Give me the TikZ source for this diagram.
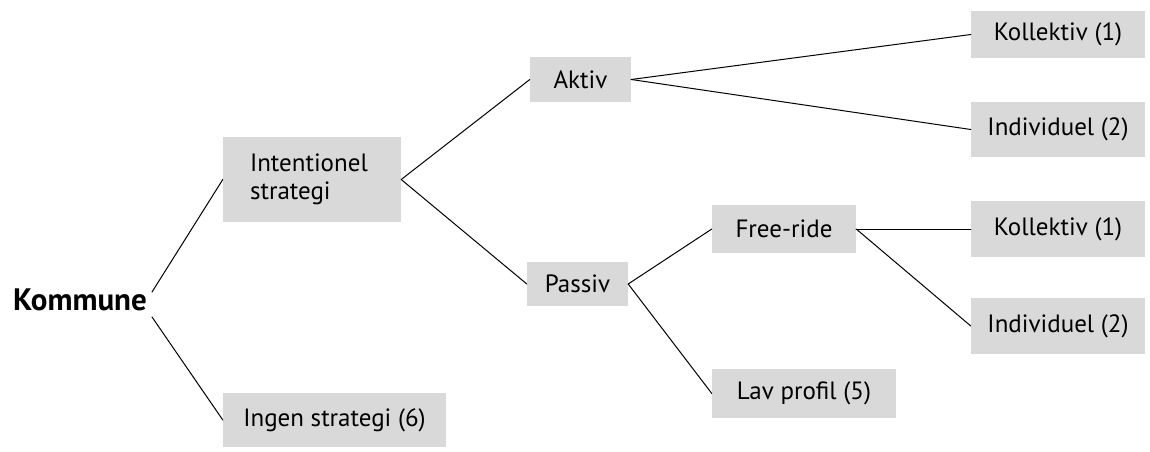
\documentclass[tikz,border=0pt]{standalone}
\usepackage{fontspec}
\setmainfont{PT Sans}
\usetikzlibrary{calc}
\definecolor{boxgray}{RGB}{217,217,217}

\begin{document}
\begin{tikzpicture}[
  x=1pt,y=1pt,
  every node/.style={font=\fontsize{25}{28}\selectfont,text=black},
  box/.style={fill=boxgray,inner sep=0pt,anchor=center},
  link/.style={line width=1pt,line cap=round}
]
\path[use as bounding box] (0,0) rectangle (1150,451);
\fill[white] (0,0) rectangle (1150,451);

% Root and the first split.
\node[font=\fontsize{31}{34}\selectfont\bfseries,inner xsep=5pt,inner ysep=2pt] (kom) at (80,151) {Kommune};
\node[box,minimum width=178,minimum height=85,text width=124,inner xsep=27pt,align=left] (intent) at (312,271.5) {Intentionel\\strategi};
\node[box,minimum width=223,minimum height=54] (ingen) at (334.5,31) {Ingen strategi (6)};

% Active or passive strategy.
\node[box,minimum width=101,minimum height=45] (aktiv) at (580.5,371.5) {Aktiv};
\node[box,minimum width=101,minimum height=44] (passiv) at (577.5,167) {Passiv};
\node[box,minimum width=144,minimum height=48] (free) at (784,222) {Free-ride};
\node[box,minimum width=184,minimum height=49] (lav) at (804,57.5) {Lav profil (5)};

% Leaves on the right.
\node[box,minimum width=174,minimum height=47] (kol1) at (1058,416.5) {Kollektiv (1)};
\node[box,minimum width=174,minimum height=55] (ind1) at (1058,321.5) {Individuel (2)};
\node[box,minimum width=174,minimum height=56] (kol2) at (1058,222) {Kollektiv (1)};
\node[box,minimum width=174,minimum height=56] (ind2) at (1058,125) {Individuel (2)};

\draw[link] ($(kom.east)+(0,8)$) -- (intent.west);
\draw[link] ($(kom.east)+(0,-17)$) -- (ingen.west);
\draw[link] (intent.east) -- (aktiv.west);
\draw[link] (intent.east) -- (passiv.west);
\draw[link] (aktiv.east) -- (kol1.west);
\draw[link] (aktiv.east) -- (ind1.west);
\draw[link] (passiv.east) -- (free.west);
\draw[link] (passiv.east) -- (lav.west);
\draw[link] (free.east) -- (kol2.west);
\draw[link] (free.east) -- (ind2.west);
\end{tikzpicture}
\end{document}
